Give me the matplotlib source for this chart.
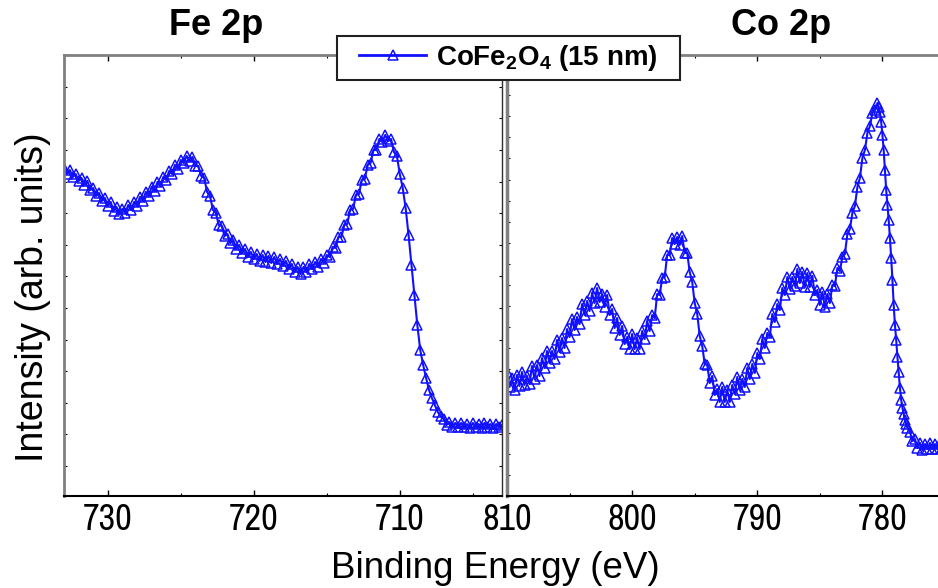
import matplotlib
matplotlib.use("Agg")
import matplotlib.pyplot as plt
from matplotlib import font_manager as fm
from matplotlib.patches import Rectangle
from matplotlib.ticker import FixedLocator, MultipleLocator
import numpy as np

# ---------------- data ----------------
fe_energy = [733.0, 732.8, 732.6, 732.4, 732.2, 732.0, 731.8, 731.6, 731.4, 731.2,
             731.0, 730.8, 730.6, 730.4, 730.2, 730.0, 729.8, 729.6, 729.4, 729.2,
             729.0, 728.8, 728.6, 728.4, 728.2, 728.0, 727.8, 727.6, 727.4, 727.2,
             727.0, 726.8, 726.6, 726.4, 726.2, 726.0, 725.8, 725.6, 725.4, 725.2,
             725.0, 724.8, 724.6, 724.4, 724.2, 724.0, 723.8, 723.6, 723.4, 723.2,
             723.0, 722.8, 722.6, 722.4, 722.2, 722.0, 721.8, 721.6, 721.4, 721.2,
             721.0, 720.8, 720.6, 720.4, 720.2, 720.0, 719.8, 719.6, 719.4, 719.2,
             719.0, 718.8, 718.6, 718.4, 718.2, 718.0, 717.8, 717.6, 717.4, 717.2,
             717.0, 716.8, 716.6, 716.4, 716.2, 716.0, 715.8, 715.6, 715.4, 715.2,
             715.0, 714.8, 714.6, 714.4, 714.2, 714.0, 713.8, 713.6, 713.4, 713.2,
             713.0, 712.8, 712.6, 712.4, 712.2, 712.0, 711.8, 711.6, 711.4, 711.2,
             711.0, 710.8, 710.6, 710.4, 710.2, 710.0, 709.8, 709.6, 709.4, 709.2,
             709.0, 708.8, 708.6, 708.4, 708.2, 708.0, 707.8, 707.6, 707.4, 707.2,
             707.0, 706.8, 706.6, 706.4, 706.2, 706.0, 705.8, 705.6, 705.4, 705.2,
             705.0, 704.8, 704.6, 704.4, 704.2, 704.0, 703.8, 703.6, 703.4, 703.2,
             703.0]
fe_intensity = [328, 322, 326, 319, 322, 315, 318, 311, 315, 306,
                308, 300, 303, 295, 298, 290, 294, 285, 289, 282,
                287, 283, 291, 286, 294, 290, 299, 295, 304, 300,
                309, 305, 314, 310, 319, 316, 325, 322, 331, 327,
                336, 333, 340, 335, 339, 330, 330, 320, 318, 304,
                300, 286, 283, 271, 270, 260, 262, 253, 256, 247,
                251, 243, 247, 239, 244, 237, 242, 235, 241, 234,
                240, 233, 239, 232, 237, 230, 235, 227, 232, 224,
                229, 222, 229, 224, 232, 227, 234, 229, 237, 233,
                241, 239, 249, 248, 259, 259, 271, 272, 286, 287,
                301, 302, 316, 317, 331, 333, 346, 346, 357, 354,
                361, 355, 357, 344, 340, 322, 308, 288, 261, 231,
                201, 171, 146, 131, 118, 106, 98, 91, 84, 80,
                77, 71, 74, 69, 73, 69, 73, 69, 72, 68,
                73, 69, 72, 68, 73, 69, 72, 68, 72, 69,
                71]

co_energy = [810.0, 809.8, 809.6, 809.4, 809.2, 809.0, 808.8, 808.6, 808.4, 808.2,
             808.0, 807.8, 807.6, 807.4, 807.2, 807.0, 806.8, 806.6, 806.4, 806.2,
             806.0, 805.8, 805.6, 805.4, 805.2, 805.0, 804.8, 804.6, 804.4, 804.2,
             804.0, 803.8, 803.6, 803.4, 803.2, 803.0, 802.8, 802.6, 802.4, 802.2,
             802.0, 801.8, 801.6, 801.4, 801.2, 801.0, 800.8, 800.6, 800.4, 800.2,
             800.0, 799.8, 799.6, 799.4, 799.2, 799.0, 798.8, 798.6, 798.4, 798.2,
             798.0, 797.8, 797.6, 797.4, 797.2, 797.0, 796.8, 796.6, 796.4, 796.2,
             796.0, 795.8, 795.6, 795.4, 795.2, 795.0, 794.8, 794.6, 794.4, 794.2,
             794.0, 793.8, 793.6, 793.4, 793.2, 793.0, 792.8, 792.6, 792.4, 792.2,
             792.0, 791.8, 791.6, 791.4, 791.2, 791.0, 790.8, 790.6, 790.4, 790.2,
             790.0, 789.8, 789.6, 789.4, 789.2, 789.0, 788.8, 788.6, 788.4, 788.2,
             788.0, 787.8, 787.6, 787.4, 787.2, 787.0, 786.8, 786.6, 786.4, 786.2,
             786.0, 785.8, 785.6, 785.4, 785.2, 785.0, 784.8, 784.6, 784.4, 784.2,
             784.0, 783.8, 783.6, 783.4, 783.2, 783.0, 782.8, 782.6, 782.4, 782.2,
             782.0, 781.8, 781.6, 781.4, 781.2, 781.0, 780.8, 780.6, 780.4,
             780.3, 780.2, 780.1, 780.0, 779.9, 779.8, 779.7, 779.6, 779.5, 779.4,
             779.3, 779.2, 779.1, 779.0, 778.9, 778.8, 778.7, 778.6, 778.5, 778.4,
             778.3, 778.2, 778.1, 778.0,
             777.8, 777.6, 777.4, 777.2, 777.0, 776.8, 776.6, 776.4, 776.2, 776.0,
             775.8, 775.6, 775.4, 775.2]
co_intensity = [124, 109, 118, 106, 121, 110, 124, 111, 120, 112,
                130, 117, 131, 120, 138, 128, 145, 133, 145, 137,
                156, 144, 158, 148, 167, 159, 177, 166, 179, 172,
                192, 181, 195, 185, 203, 193, 208, 194, 202, 189,
                201, 181, 187, 168, 178, 161, 170, 152, 159, 147,
                162, 147, 158, 147, 165, 157, 175, 165, 181, 178,
                202, 201, 218, 219, 241, 241, 258, 252, 259, 251,
                260, 243, 243, 224, 214, 193, 182, 160, 150, 132,
                131, 113, 120, 101, 107, 94, 109, 94, 106, 94,
                111, 102, 119, 106, 117, 109, 128, 117, 132, 123,
                143, 137, 157, 148, 163, 159, 182, 174, 192, 186,
                208, 201, 219, 207, 219, 210, 227, 213, 224, 209,
                223, 209, 220, 201, 206, 191, 204, 189, 202, 193,
                211, 210, 228, 225, 239, 242, 262, 267, 283, 290,
                309, 318, 338, 346, 363, 370, 383, 386, 393,
                389, 384, 374, 361, 346, 326, 306, 291, 276, 258,
                238, 216, 191, 171, 156, 139, 124, 108, 96, 88,
                82, 76, 72, 68,
                64, 55, 57, 48, 53, 46, 52, 47, 53, 47,
                52, 47, 53, 48]

fe_xticks = [730, 720, 710]
co_xticks = [810, 800, 790, 780]
series_label = r'CoFe$_\mathbf{2}$O$_\mathbf{4}$ (15 nm)'
panel_titles = ['Fe 2p', 'Co 2p']

# ---------------- fonts ----------------
names = {f.name for f in fm.fontManager.ttflist}
base_family = 'Liberation Sans' if 'Liberation Sans' in names else 'DejaVu Sans'
tick_family = base_family
for cand in ['Liberation Sans Narrow', 'Arial Narrow', 'Archivo Narrow']:
    if cand in names:
        tick_family = cand
        break
plt.rcParams['font.family'] = [base_family, 'DejaVu Sans']
plt.rcParams['mathtext.fontset'] = 'custom'
plt.rcParams['mathtext.rm'] = base_family + ':bold'
plt.rcParams['mathtext.bf'] = base_family + ':bold'
plt.rcParams['mathtext.it'] = base_family + ':bold'

W, H = 938, 588
fig = plt.figure(figsize=(W / 100, H / 100), dpi=100)

def fx(px):
    return px / W

def fy(py):
    return 1 - py / H

ax1 = fig.add_axes([fx(64), fy(496), 438 / W, 441 / H])
ax2 = fig.add_axes([fx(507), fy(496), 438 / W, 441 / H])

blue = '#1010ff'
style = dict(color=blue, lw=1.5, marker='^', markersize=6.8, markerfacecolor='none',
             markeredgecolor=blue, markeredgewidth=1.1)
line1, = ax1.plot(fe_energy, fe_intensity, label=series_label, **style)
ax2.plot(co_energy, co_intensity, **style)

ax1.set_xlim(733, 703)
ax2.set_xlim(810, 775)
ax1.set_ylim(0, 441)
ax2.set_ylim(0, 441)

ax1.xaxis.set_major_locator(FixedLocator(fe_xticks))
ax2.xaxis.set_major_locator(FixedLocator(co_xticks))
for ax in (ax1, ax2):
    ax.xaxis.set_minor_locator(MultipleLocator(5))
    ax.tick_params(axis='x', which='major', direction='in', length=4, width=1,
                   top=True, bottom=True, labelsize=26, pad=5)
    ax.tick_params(axis='x', which='minor', direction='in', length=2.5, width=0.8,
                   top=True, bottom=True)
    ax.spines['bottom'].set_color('black')
    ax.spines['bottom'].set_linewidth(1.5)
    ax.spines['top'].set_color('#808080')
    ax.spines['top'].set_linewidth(2)

ax1.yaxis.set_major_locator(FixedLocator(list(30 + 31.6 * np.arange(13))))
ax2.yaxis.set_major_locator(FixedLocator(list(21.1 * np.arange(1, 21))))
ax1.tick_params(axis='y', direction='in', length=2.5, width=0.8, left=True, right=True,
                labelleft=False)
ax2.tick_params(axis='y', direction='in', length=2.5, width=0.8, left=True, right=True,
                labelleft=False)
ax1.spines['left'].set_color('#808080')
ax1.spines['left'].set_linewidth(2)
ax1.spines['right'].set_color('#303030')
ax1.spines['right'].set_linewidth(1)
ax2.spines['left'].set_color('#808080')
ax2.spines['left'].set_linewidth(2.5)
ax2.spines['right'].set_color('#808080')

for lab in ax1.get_xticklabels() + ax2.get_xticklabels():
    lab.set_family([tick_family, 'DejaVu Sans'])

# titles and axis labels
fig.text(fx(216), fy(35), panel_titles[0], ha='center', va='baseline',
         fontsize=26, fontweight='bold')
fig.text(fx(781), fy(35), panel_titles[1], ha='center', va='baseline',
         fontsize=26, fontweight='bold')
fig.text(fx(33), fy(297), 'Intensity (arb. units)', rotation=90, ha='center',
         va='center', fontsize=27)
fig.text(fx(495), fy(578), 'Binding Energy (eV)', ha='center', va='baseline',
         fontsize=26.5)

# legend with a custom frame
frame = Rectangle((fx(337), fy(80)), (680 - 337) / W, 44 / H, transform=fig.transFigure,
                  facecolor='white', edgecolor='#202020', linewidth=1.5, zorder=3)
fig.add_artist(frame)
leg = fig.legend(handles=[line1], labels=[series_label], loc='center',
                 bbox_to_anchor=(fx(508.5), fy(58)), frameon=False,
                 prop={'weight': 'bold', 'size': 20}, handlelength=2.4,
                 handletextpad=0.36, borderpad=0, numpoints=1, borderaxespad=0)
leg.get_lines()[0].set_linewidth(2)
leg.set_zorder(5)

fig.savefig('out.png', dpi=100)
